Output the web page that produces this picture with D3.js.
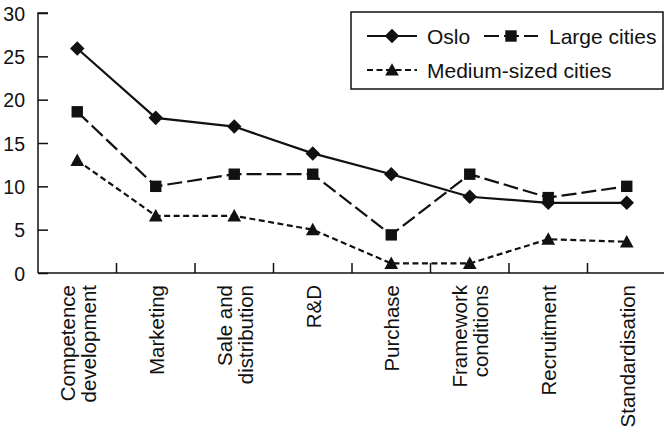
<!DOCTYPE html>
<html>
<head>
<meta charset="utf-8">
<script src="https://cdn.jsdelivr.net/npm/d3@7"></script>
<style>
  html, body { margin: 0; padding: 0; background: #fff; }
  svg { display: block; font-family: "Liberation Sans", Arial, Helvetica, sans-serif; }
</style>
</head>
<body>
<svg id="chart" width="664" height="431"></svg>
<script>
const categories = ["Competence\ndevelopment", "Marketing", "Sale and\ndistribution", "R&D", "Purchase", "Framework\nconditions", "Recruitment", "Standardisation"];
const oslo = [25.9, 17.9, 16.9, 13.8, 11.4, 8.8, 8.1, 8.1];
const largeCities = [18.6, 10.0, 11.4, 11.4, 4.4, 11.4, 8.7, 10.0];
const mediumCities = [13.0, 6.6, 6.6, 5.0, 1.1, 1.1, 3.9, 3.6];
const yTicks = [0, 5, 10, 15, 20, 25, 30];
const seriesNames = ["Oslo", "Large cities", "Medium-sized cities"];

(function () {
const svg = d3.select("#chart");
const mLeft = 38, mRight = 666, mTop = 13, mBottom = 273;

const x = d3.scaleBand().domain(categories).range([mLeft, mRight]);
const y = d3.scaleLinear().domain([0, 30]).range([mBottom, mTop]);

const ink = "#111";

// custom marker shapes
const diamond = { draw(ctx, size) { const r = Math.sqrt(size) / 2 * 1.42; ctx.moveTo(0, -r); ctx.lineTo(r, 0); ctx.lineTo(0, r); ctx.lineTo(-r, 0); ctx.closePath(); } };
const triangle = { draw(ctx, size) { const w = Math.sqrt(size); ctx.moveTo(0, -w * 0.55); ctx.lineTo(w * 0.55, w * 0.45); ctx.lineTo(-w * 0.55, w * 0.45); ctx.closePath(); } };

// Y axis
const yAxis = svg.append("g").attr("transform", `translate(${mLeft},0)`)
  .call(d3.axisRight(y).tickValues(yTicks).tickSize(10).tickFormat(d3.format("d")));
yAxis.select(".domain").attr("stroke", ink).attr("stroke-width", 1.5).attr("d", `M10,${mTop}H0V${mBottom}`);
yAxis.selectAll(".tick line").attr("stroke", ink).attr("stroke-width", 1.5);
yAxis.selectAll(".tick text").attr("x", -13).attr("dy", "0.36em").attr("text-anchor", "end")
  .attr("font-size", 19.5).attr("fill", ink).attr("font-family", "Liberation Sans, Arial, sans-serif");

// X axis line and ticks at band boundaries
const xg = svg.append("g");
xg.append("line").attr("x1", mLeft).attr("x2", mRight).attr("y1", mBottom).attr("y2", mBottom)
  .attr("stroke", ink).attr("stroke-width", 1.5);
xg.selectAll("line.tk").data(categories.slice(1)).join("line").attr("class", "tk")
  .attr("x1", d => x(d)).attr("x2", d => x(d)).attr("y1", mBottom).attr("y2", mBottom - 10)
  .attr("stroke", ink).attr("stroke-width", 1.5);

// X labels rotated
categories.forEach(c => {
  const lines = c.split("\n");
  const cx = x(c) + x.bandwidth() / 2;
  const t = svg.append("text")
    .attr("transform", `translate(${cx},285) rotate(-90)`)
    .attr("text-anchor", "end").attr("font-size", 20.5).attr("fill", ink);
  lines.forEach((ln, i) => {
    t.append("tspan").attr("x", 0).attr("y", 8 + (i - (lines.length - 1) / 2) * 21).text(ln);
  });
});

const cxOf = (d, i) => x(categories[i]) + x.bandwidth() / 2;
const line = d3.line().x((d, i) => cxOf(d, i)).y(d => y(d));

const styles = [
  { data: oslo, dash: null, symbol: diamond, size: 105 },
  { data: largeCities, dash: "15,5", symbol: d3.symbolSquare, size: 130 },
  { data: mediumCities, dash: "6,3.5", symbol: triangle, size: 155 }
];

styles.forEach(s => {
  svg.append("path").datum(s.data).attr("d", line).attr("fill", "none")
    .attr("stroke", ink).attr("stroke-width", 2.2).attr("stroke-dasharray", s.dash);
  svg.selectAll(null).data(s.data).join("path")
    .attr("transform", (d, i) => `translate(${cxOf(d, i)},${y(d)})`)
    .attr("d", d3.symbol().type(s.symbol).size(s.size)).attr("fill", ink);
});

// Legend
const lg = svg.append("g");
lg.append("rect").attr("x", 351).attr("y", 12).attr("width", 312).attr("height", 77)
  .attr("fill", "#fff").attr("stroke", ink).attr("stroke-width", 1.5);
const entries = [
  { x1: 367, x2: 417, mx: 392, ty: 36, tx: 427 },
  { x1: 484, x2: 538, mx: 511, ty: 36, tx: 549 },
  { x1: 367, x2: 417, mx: 392, ty: 70, tx: 427 }
];
entries.forEach((e, i) => {
  const s = styles[i];
  lg.append("line").attr("x1", e.x1).attr("x2", e.x2).attr("y1", e.ty).attr("y2", e.ty)
    .attr("stroke", ink).attr("stroke-width", 2.2).attr("stroke-dasharray", s.dash);
  lg.append("path").attr("transform", `translate(${e.mx},${e.ty})`)
    .attr("d", d3.symbol().type(s.symbol).size(s.size)).attr("fill", ink);
  lg.append("text").attr("x", e.tx).attr("y", e.ty).attr("dy", "0.36em")
    .attr("font-size", 21).attr("fill", ink).text(seriesNames[i]);
});
})();
</script>
</body>
</html>
